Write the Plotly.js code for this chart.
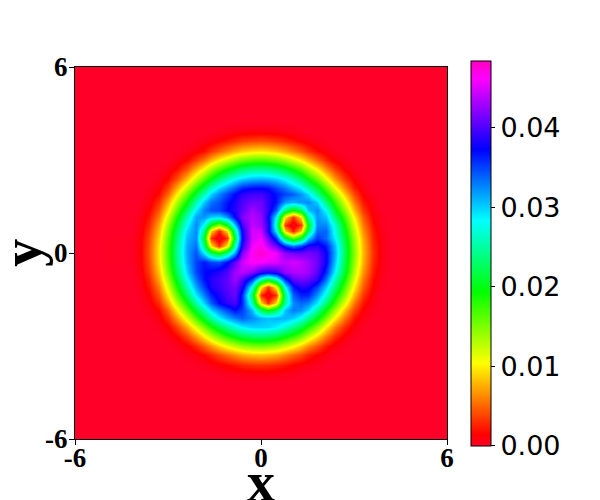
<!DOCTYPE html>
<html>
<head>
<meta charset="utf-8">
<script src="https://cdn.plot.ly/plotly-3.0.1.min.js"></script>
<style>
  html, body { margin: 0; padding: 0; background: #fff; }
  #chart { width: 600px; height: 500px; }
</style>
</head>
<body>
<div id="chart"></div>
<script>
// grid lines, snapped so that a line passes through each of the three dark cores
const xs = [-6,-4.2,-3.9,-3.6,-3.3,-3,-2.7,-2.4,-2.1,-1.85,-1.6,-1.35,-1.1,-0.85,-0.6,-0.3,0,0.23,0.48,0.78,1.03,1.28,1.53,1.8,2.1,2.4,2.7,3,3.3,3.6,3.9,4.2,6];
const ys = [-6,-4.2,-3.9,-3.6,-3.3,-3,-2.7,-2.4,-2.1,-1.85,-1.6,-1.35,-1.1,-0.85,-0.6,-0.3,0,0.23,0.48,0.7,0.9,1.15,1.4,1.65,1.9,2.1,2.4,2.7,3,3.3,3.6,3.9,4.2,6];

// values, in units of 1e-4, bottom row first
const density = [
[0,0,0,0,0,0,0,0,0,0,0,0,0,0,0,0,0,0,0,0,0,0,0,0,0,0,0,0,0,0,0,0,0],
[0,0,0,0,0,0,0,0,0,0,0,0,0,0,0,0,0,0,0,0,0,0,0,0,0,0,0,0,0,0,0,0,0],
[0,0,0,0,0,0,0,0,0,0,0,1,3,4,6,7,7,7,6,4,3,1,0,0,0,0,0,0,0,0,0,0,0],
[0,0,0,0,0,0,0,0,1,3,6,11,16,21,26,30,31,30,26,21,15,10,6,3,0,0,0,0,0,0,0,0,0],
[0,0,0,0,0,0,0,3,8,15,26,39,50,63,73,80,82,79,74,61,48,38,24,14,6,1,0,0,0,0,0,0,0],
[0,0,0,0,0,0,4,12,28,47,67,89,109,125,139,148,151,147,140,123,107,86,64,43,22,8,2,0,0,0,0,0,0],
[0,0,0,0,0,4,14,36,65,95,124,152,176,195,211,222,225,221,212,192,173,149,120,89,55,27,10,2,0,0,0,0,0],
[0,0,0,0,3,13,37,73,115,152,186,218,246,269,286,297,299,296,287,266,243,215,182,146,100,58,27,8,1,0,0,0,0],
[0,0,0,1,9,31,69,117,168,209,249,285,310,328,340,325,310,305,310,310,300,278,244,201,152,100,54,21,6,0,0,0,0],
[0,0,0,4,17,50,100,157,211,257,298,326,348,370,352,308,225,190,224,305,330,322,298,248,192,137,81,38,12,2,0,0,0],
[0,0,1,8,30,74,131,192,253,299,340,372,388,398,360,257,90,32,92,251,324,337,328,291,233,172,111,56,21,5,0,0,0],
[0,0,2,14,45,98,162,227,290,329,362,382,398,410,358,225,28,0,32,239,340,362,361,322,270,203,140,79,33,8,0,0,0],
[0,0,4,21,59,119,187,257,316,352,383,392,405,415,383,276,98,32,102,281,365,385,381,350,299,233,164,99,46,13,2,0,0],
[0,0,6,28,74,139,209,283,335,368,385,395,405,430,404,356,263,222,267,362,407,415,410,390,334,258,186,116,56,18,3,0,0],
[0,0,8,35,85,154,227,299,349,370,376,385,400,430,440,423,391,383,391,426,434,436,430,405,358,285,205,130,67,23,5,0,0],
[0,1,11,41,95,166,241,311,350,365,350,345,370,408,445,465,462,455,452,440,448,442,430,412,375,302,215,142,76,28,6,0,0],
[0,1,11,43,98,170,246,315,345,290,228,193,242,320,418,468,478,470,458,423,414,410,414,407,375,310,220,147,79,31,7,0,0],
[0,1,11,42,97,168,244,313,335,240,96,32,101,264,387,458,472,440,414,360,333,352,383,385,365,305,218,144,78,29,7,0,0],
[0,1,10,39,91,162,237,307,325,205,32,0,32,218,373,448,458,414,354,218,155,206,299,355,335,286,210,138,73,26,6,0,0],
[0,0,8,34,83,152,225,297,325,240,87,25,90,251,378,450,445,382,289,90,25,86,228,335,338,274,198,128,65,23,5,0,0],
[0,0,6,28,74,140,210,283,325,280,192,142,200,306,396,442,428,387,262,32,0,32,195,325,325,268,186,116,57,18,3,0,0],
[0,0,5,21,59,120,188,259,317,320,299,292,320,374,418,437,425,377,288,98,32,95,250,320,305,234,166,100,46,13,2,0,0],
[0,0,2,14,45,98,162,227,290,328,345,350,372,385,405,430,415,390,344,237,190,227,305,325,280,203,140,79,33,8,0,0,0],
[0,0,1,8,31,76,134,194,256,302,333,345,366,382,400,412,412,388,367,321,310,320,325,300,234,174,113,58,22,5,0,0,0],
[0,0,0,4,18,50,101,158,213,259,299,327,349,372,388,395,396,385,367,350,340,320,295,245,193,138,83,39,12,2,0,0,0],
[0,0,0,2,11,35,76,126,178,220,261,295,319,340,362,370,372,368,350,330,308,287,252,212,161,108,59,24,7,0,0,0,0],
[0,0,0,0,4,16,43,82,126,164,198,232,261,284,299,309,311,308,300,282,258,229,194,157,111,67,32,11,2,0,0,0,0],
[0,0,0,0,0,6,18,43,76,107,138,166,190,211,227,238,241,237,228,209,187,163,134,100,63,33,12,3,0,0,0,0,0],
[0,0,0,0,0,0,6,16,35,55,79,102,122,140,154,164,166,163,155,138,119,99,76,50,27,11,3,0,0,0,0,0,0],
[0,0,0,0,0,0,0,4,11,19,33,47,61,75,85,93,95,92,85,73,59,46,31,17,8,2,0,0,0,0,0,0,0],
[0,0,0,0,0,0,0,0,2,5,9,15,22,29,35,39,41,39,35,28,21,14,8,4,1,0,0,0,0,0,0,0,0],
[0,0,0,0,0,0,0,0,0,0,1,2,4,7,8,9,10,9,8,6,4,2,0,0,0,0,0,0,0,0,0,0,0],
[0,0,0,0,0,0,0,0,0,0,0,0,0,0,0,0,0,0,0,0,0,0,0,0,0,0,0,0,0,0,0,0,0],
[0,0,0,0,0,0,0,0,0,0,0,0,0,0,0,0,0,0,0,0,0,0,0,0,0,0,0,0,0,0,0,0,0]
];

const axisVals = [-6, 0, 6];
const axisText = ["-6", "0", "6"];
const cbarVals = [0, 0.01, 0.02, 0.03, 0.04];
const cbarText = ["0.00", "0.01", "0.02", "0.03", "0.04"];

// same stops as matplotlib gist_rainbow
const RAINBOW = [
  [0, "#ff0029"], [0.03, "#ff0000"], [0.215, "#ffff00"], [0.4, "#00ff00"],
  [0.586, "#00ffff"], [0.77, "#0000ff"], [0.954, "#ff00ff"], [1, "#ff00bf"]
];
const SERIF = "Liberation Serif, serif";
const LABEL_FONT = { family: SERIF, size: 56, weight: 700, color: "#000" };

function axis(labelStandoff) {
  return {
    range: [-6, 6],
    tickmode: "array",
    tickvals: axisVals,
    ticktext: axisText,
    ticks: "outside",
    ticklen: 5,
    tickcolor: "#000",
    tickfont: { family: SERIF, size: 27, weight: 700, color: "#000" },
    ticklabelstandoff: labelStandoff,
    showgrid: false,
    zeroline: false,
    showline: true,
    mirror: true,
    linecolor: "#000",
    linewidth: 1
  };
}

const trace = {
  type: "heatmap",
  x: xs,
  y: ys,
  z: density.map((row) => row.map((v) => v / 10000)),
  zmin: 0,
  zmax: 0.0484,
  zsmooth: "best",
  colorscale: RAINBOW,
  colorbar: {
    x: 1.0645, xanchor: "left", xpad: 0,
    y: -0.0185, yanchor: "bottom", ypad: 0,
    lenmode: "pixels", len: 385,
    thicknessmode: "pixels", thickness: 20,
    outlinecolor: "#000", outlinewidth: 1,
    tickmode: "array",
    tickvals: cbarVals,
    ticktext: cbarText,
    ticks: "outside",
    ticklen: 4,
    tickcolor: "#000",
    tickfont: { family: "DejaVu Sans, sans-serif", size: 27, color: "#000" }
  }
};

const layout = {
  width: 600,
  height: 500,
  paper_bgcolor: "#fff",
  plot_bgcolor: "#fff",
  margin: { l: 75, r: 153, t: 67, b: 61 },
  xaxis: axis(-10),
  yaxis: axis(-4),
  // axis labels sit further out than title.standoff allows inside the margins
  annotations: [
    { text: "x", xref: "paper", yref: "paper", x: 0.5, y: -0.116, xanchor: "center", yanchor: "middle", showarrow: false, font: LABEL_FONT },
    { text: "y", xref: "paper", yref: "paper", x: -0.143, y: 0.5, xanchor: "center", yanchor: "middle", textangle: -90, showarrow: false, font: LABEL_FONT }
  ]
};

Plotly.newPlot("chart", [trace], layout, { displayModeBar: false });
</script>
</body>
</html>
